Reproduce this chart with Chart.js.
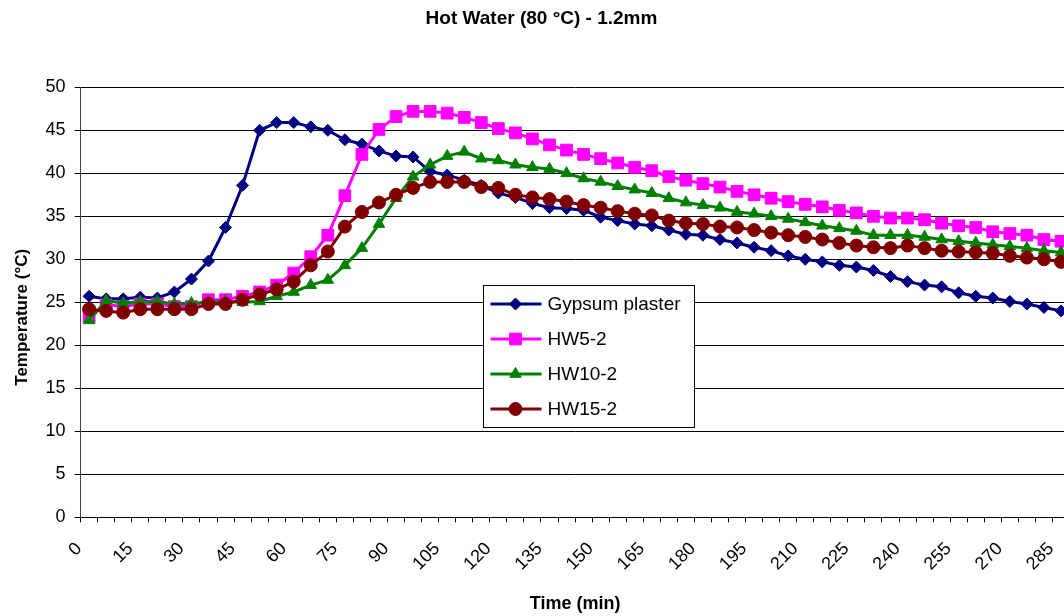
<!DOCTYPE html>
<html>
<head>
<meta charset="utf-8">
<script src="https://cdn.jsdelivr.net/npm/chart.js@4/dist/chart.umd.min.js"></script>
<style>
html,body{margin:0;padding:0;background:#fff;overflow:hidden;width:1064px;height:616px}
canvas{display:block}
</style>
</head>
<body>
<canvas id="c" width="1083" height="616" style="width:1083px;height:616px"></canvas>
<script>
// Time categories (min)
const times = ['0','5','10','15','20','25','30','35','40','45','50','55','60','65','70','75','80','85','90','95',
  '100','105','110','115','120','125','130','135','140','145','150','155','160','165','170','175','180','185','190','195',
  '200','205','210','215','220','225','230','235','240','245','250','255','260','265','270','275','280','285'];
// Labels shown on the time axis
const timeTickLabels = ['0','15','30','45','60','75','90','105','120','135','150','165','180','195','210','225','240','255','270','285'];
// Temperature (°C) series
const gypsumPlaster = [25.7,25.4,25.4,25.6,25.5,26.2,27.7,29.8,33.7,38.6,45.0,45.9,45.9,45.4,45.0,43.9,43.4,42.6,42.0,41.9,
  40.2,39.8,39.2,38.6,37.7,37.2,36.5,36.0,35.9,35.7,34.9,34.5,34.1,33.9,33.4,32.9,32.8,32.3,31.9,31.4,
  31.0,30.4,30.0,29.7,29.3,29.1,28.7,28.0,27.4,27.0,26.8,26.1,25.7,25.5,25.1,24.8,24.4,24.0];
const hw5 = [23.3,24.7,24.5,24.8,24.8,24.5,24.5,25.3,25.3,25.7,26.2,27.0,28.4,30.3,32.8,37.4,42.2,45.1,46.6,47.2,
  47.2,47.0,46.5,45.9,45.2,44.7,44.0,43.3,42.7,42.2,41.7,41.2,40.7,40.3,39.6,39.2,38.8,38.4,37.9,37.5,
  37.1,36.7,36.4,36.1,35.7,35.4,35.0,34.8,34.8,34.6,34.2,33.9,33.7,33.2,33.0,32.8,32.3,32.1];
const hw10 = [22.9,25.2,24.9,25.1,25.1,24.8,24.9,25.0,25.1,25.0,25.1,25.7,26.2,27.0,27.6,29.3,31.3,34.1,37.1,39.6,
  41.0,42.0,42.5,41.7,41.5,41.0,40.7,40.5,40.0,39.4,39.0,38.5,38.1,37.7,37.1,36.6,36.3,36.0,35.5,35.3,
  35.0,34.7,34.3,33.9,33.6,33.3,32.8,32.8,32.8,32.6,32.3,32.1,31.9,31.7,31.5,31.3,31.0,30.8];
const hw15 = [24.2,24.0,23.8,24.2,24.2,24.2,24.2,24.8,24.8,25.3,25.9,26.5,27.4,29.3,30.9,33.8,35.5,36.6,37.5,38.3,
  39.0,39.0,39.0,38.4,38.3,37.5,37.2,37.0,36.7,36.3,36.0,35.6,35.3,35.1,34.5,34.2,34.1,33.8,33.7,33.4,
  33.1,32.8,32.6,32.3,31.9,31.6,31.4,31.3,31.6,31.3,31.0,30.9,30.8,30.7,30.4,30.2,30.0,29.7];
const seriesNames = ['Gypsum plaster','HW5-2','HW10-2','HW15-2'];
const yAxisTitle = 'Temperature (°C)';

const FONT = '"Liberation Sans", Arial, sans-serif';
Chart.defaults.font.family = FONT;
Chart.defaults.color = '#000';

function drawMarker(ctx, style, x, y, r, color) {
  ctx.fillStyle = color; ctx.strokeStyle = color; ctx.lineWidth = 1;
  ctx.beginPath();
  if (style === 'rectRot') {
    ctx.moveTo(x - r, y); ctx.lineTo(x, y - r); ctx.lineTo(x + r, y); ctx.lineTo(x, y + r); ctx.closePath();
  } else if (style === 'rect') {
    const s = r * Math.SQRT1_2; ctx.rect(x - s, y - s, 2 * s, 2 * s);
  } else if (style === 'triangle') {
    for (let k = 0; k < 3; k++) {
      const ang = k * 2 * Math.PI / 3;
      const px = x + Math.sin(ang) * r, py = y - Math.cos(ang) * r;
      if (k) ctx.lineTo(px, py); else ctx.moveTo(px, py);
    }
    ctx.closePath();
  } else {
    ctx.arc(x, y, r, 0, 2 * Math.PI);
  }
  ctx.fill(); ctx.stroke();
}

const boxLegend = {
  id: 'boxLegend',
  afterDatasetsDraw(chart) {
    const ctx = chart.ctx, a = chart.chartArea;
    const x0 = Math.round(a.left + 402.7) + 0.5, y0 = Math.round(a.top + 197.7) + 0.5, w = 211, h = 142;
    ctx.save();
    ctx.fillStyle = '#fff'; ctx.fillRect(x0, y0, w, h);
    ctx.strokeStyle = '#000'; ctx.lineWidth = 1; ctx.strokeRect(x0, y0, w, h);
    chart.data.datasets.forEach((ds, i) => {
      const y = y0 + 18.5 + 35 * i;
      ctx.strokeStyle = ds.borderColor; ctx.lineWidth = 3;
      ctx.beginPath(); ctx.moveTo(x0 + 7, y); ctx.lineTo(x0 + 58, y); ctx.stroke();
      drawMarker(ctx, ds.pointStyle, x0 + 32, y, ds.pointRadius, ds.backgroundColor);
      ctx.fillStyle = '#000'; ctx.font = '19px ' + FONT;
      ctx.textBaseline = 'middle'; ctx.textAlign = 'left';
      ctx.fillText(ds.label, x0 + 64, y + 1);
    });
    ctx.restore();
  }
};

// Y axis title, placed like the reference (slightly below the plot's middle)
const yTitle = {
  id: 'yTitle',
  afterDraw(chart) {
    const ctx = chart.ctx, a = chart.chartArea;
    ctx.save();
    ctx.translate(22, (a.top + a.bottom) / 2 + 15);
    ctx.rotate(-Math.PI / 2);
    ctx.font = 'bold 17px ' + FONT;
    ctx.fillStyle = '#000';
    ctx.textAlign = 'center'; ctx.textBaseline = 'middle';
    ctx.fillText(yAxisTitle, 0, 0);
    ctx.restore();
  }
};

function mk(label, data, color, style, r, order) {
  return {
    label, data, order,
    borderColor: color, backgroundColor: color,
    borderWidth: 3, tension: 0,
    pointStyle: style, pointRadius: r, pointHoverRadius: r,
    pointBorderColor: color, pointBackgroundColor: color, pointBorderWidth: 1
  };
}

new Chart(document.getElementById('c'), {
  type: 'line',
  data: {
    labels: times,
    datasets: [
      mk(seriesNames[0], gypsumPlaster, '#000080', 'rectRot', 6, 4),
      mk(seriesNames[1], hw5, '#FF00FF', 'rect', 8.3, 3),
      mk(seriesNames[2], hw10, '#008000', 'triangle', 6.6, 2),
      mk(seriesNames[3], hw15, '#800000', 'circle', 6.5, 1)
    ]
  },
  options: {
    responsive: false,
    animation: false,
    devicePixelRatio: 1,
    layout: { padding: { top: 0, left: 0, right: 0, bottom: 0 } },
    plugins: {
      legend: { display: false },
      tooltip: { enabled: false },
      title: {
        display: true,
        text: 'Hot Water (80 °C) - 1.2mm',
        font: { size: 19, weight: 'bold' },
        color: '#000',
        padding: { top: 7, bottom: 57.5 }
      }
    },
    scales: {
      x: {
        type: 'category',
        offset: true,
        grid: { display: true, drawOnChartArea: false, drawTicks: true, tickLength: 5, offset: true, color: '#000' },
        border: { display: true, color: '#000', width: 1 },
        ticks: {
          autoSkip: false, minRotation: 45, maxRotation: 45, padding: 16,
          labelOffset: -10,
          font: { size: 18 }, color: '#000',
          callback: function(v, i) { const t = times[i]; return timeTickLabels.includes(t) ? t : ''; }
        },
        title: { display: true, text: 'Time (min)', font: { size: 18, weight: 'bold' }, padding: { top: 0, bottom: 1 } },
        afterFit(s) { s.height = 98.7; s.paddingLeft = 0; s.paddingRight = 0; }
      },
      y: {
        min: 0, max: 50,
        grid: { color: '#000', lineWidth: 1, drawTicks: true, tickLength: 6 },
        border: { display: true, color: '#444', width: 1 },
        ticks: { stepSize: 5, padding: 9, font: { size: 18 }, color: '#000' },
        title: { display: false },
        afterFit(s) { s.width = 80.6; s.paddingTop = 0; s.paddingBottom = 0; }
      },
      yRight: {
        position: 'right', display: true,
        grid: { display: false, drawTicks: false },
        border: { display: false },
        ticks: { display: false },
        afterFit(s) { s.width = 13.5; }
      }
    }
  },
  plugins: [boxLegend, yTitle]
});
</script>
</body>
</html>
